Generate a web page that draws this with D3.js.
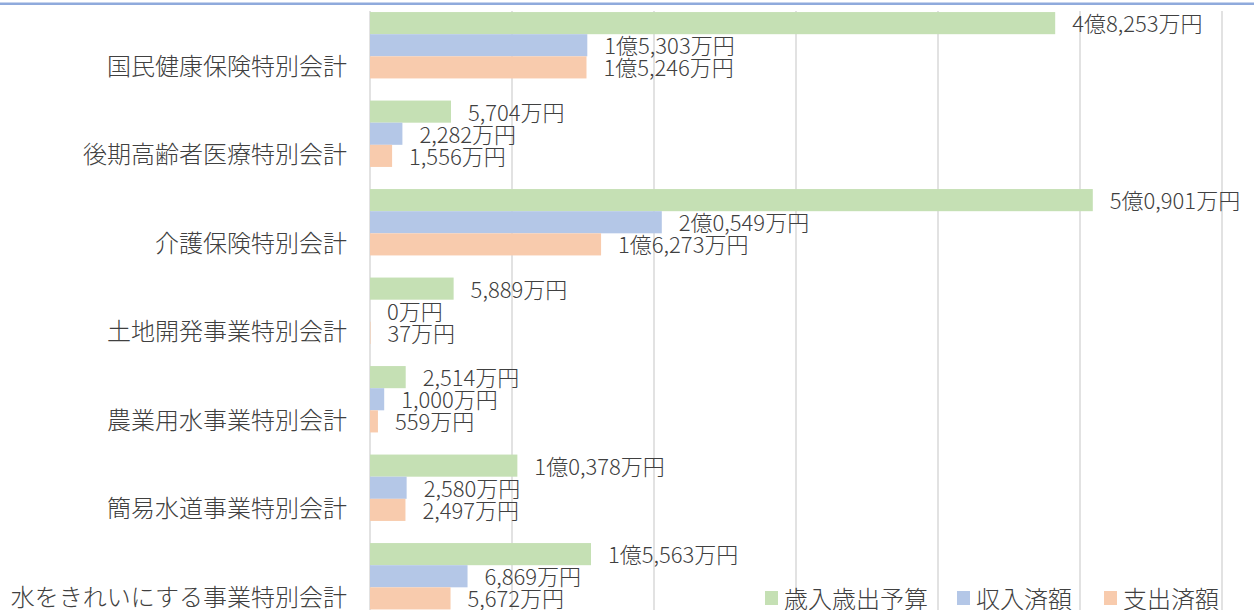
<!DOCTYPE html>
<html lang="ja">
<head>
<meta charset="UTF-8">
<title>特別会計 予算・執行状況</title>
<script src="https://d3js.org/d3.v7.min.js"></script>
<style>
  body { margin: 0; background: #fff; }
  svg text { font-family: "Noto Sans CJK JP", "Noto Sans", sans-serif; fill: #404040; font-weight: 300; }
</style>
</head>
<body>
<div id="chart"></div>
<script>
// data (単位: 万円)
const categories = ["国民健康保険特別会計", "後期高齢者医療特別会計", "介護保険特別会計",
  "土地開発事業特別会計", "農業用水事業特別会計", "簡易水道事業特別会計", "水をきれいにする事業特別会計"];
const seriesNames = ["歳入歳出予算", "収入済額", "支出済額"];
const budget   = [48253, 5704, 50901, 5889, 2514, 10378, 15563];
const income   = [15303, 2282, 20549, 0, 1000, 2580, 6869];
const expense  = [15246, 1556, 16273, 37, 559, 2497, 5672];
const gridTicks = [0, 10000, 20000, 30000, 40000, 50000, 60000];

const colors = ["#c5e0b4", "#b4c7e7", "#f8cbad"];
const W = 1254, H = 610;

const svg = d3.select("#chart").append("svg")
  .attr("width", W).attr("height", H);

// top accent line
svg.append("line")
  .attr("x1", 0).attr("x2", W).attr("y1", 3.8).attr("y2", 3.8)
  .attr("stroke", "#8faadc").attr("stroke-width", 2.6);

const x = d3.scaleLinear().domain([0, 60000]).range([370, 1222]);
const y = d3.scaleBand().domain(categories).range([1, 620.5])
  .paddingInner(0.25).paddingOuter(0.125);
const ySub = d3.scaleBand().domain(seriesNames).range([0, y.bandwidth()]);

// gridlines
svg.append("g").selectAll("line")
  .data(gridTicks)
  .join("line")
  .attr("x1", d => x(d)).attr("x2", d => x(d))
  .attr("y1", 11).attr("y2", H)
  .attr("stroke", "#d9d9d9").attr("stroke-width", 1.5);

const rows = categories.map((c, i) => ({
  cat: c,
  vals: [budget[i], income[i], expense[i]]
}));

function fmt(v) {
  if (v >= 10000) {
    const oku = Math.floor(v / 10000);
    const rest = String(v % 10000).padStart(4, "0");
    return oku + "億" + rest[0] + "," + rest.slice(1) + "万円";
  }
  return d3.format(",")(v) + "万円";
}

const groups = svg.append("g").selectAll("g")
  .data(rows)
  .join("g")
  .attr("transform", d => `translate(0,${y(d.cat)})`);

groups.selectAll("rect")
  .data(d => d.vals.map((v, j) => ({ v, s: seriesNames[j], j })))
  .join("rect")
  .attr("x", x(0))
  .attr("y", d => ySub(d.s))
  .attr("width", d => x(d.v) - x(0))
  .attr("height", ySub.bandwidth())
  .attr("fill", d => colors[d.j]);

groups.selectAll("text.val")
  .data(d => d.vals.map((v, j) => ({ v, s: seriesNames[j], j })))
  .join("text")
  .attr("class", "val")
  .attr("x", d => x(d.v) + 17)
  .attr("y", d => ySub(d.s) + ySub.bandwidth() / 2 - 1)
  .attr("dominant-baseline", "central")
  .style("font-size", "22px")
  .text(d => fmt(d.v));

// category labels
svg.append("g").selectAll("text")
  .data(categories)
  .join("text")
  .attr("x", 347)
  .attr("y", d => y(d) + y.bandwidth() / 2 + 19)
  .attr("text-anchor", "end")
  .attr("dominant-baseline", "central")
  .style("font-size", "24px")
  .text(d => d);

// legend
const legendX = [765, 957, 1104];
const legend = svg.append("g").selectAll("g")
  .data(seriesNames)
  .join("g")
  .attr("transform", (d, i) => `translate(${legendX[i]},591)`);
legend.append("rect")
  .attr("width", 13).attr("height", 14)
  .attr("fill", (d, i) => colors[i]);
legend.append("text")
  .attr("x", 19).attr("y", 6)
  .attr("dominant-baseline", "central")
  .style("font-size", "24px")
  .text(d => d);
</script>
</body>
</html>
